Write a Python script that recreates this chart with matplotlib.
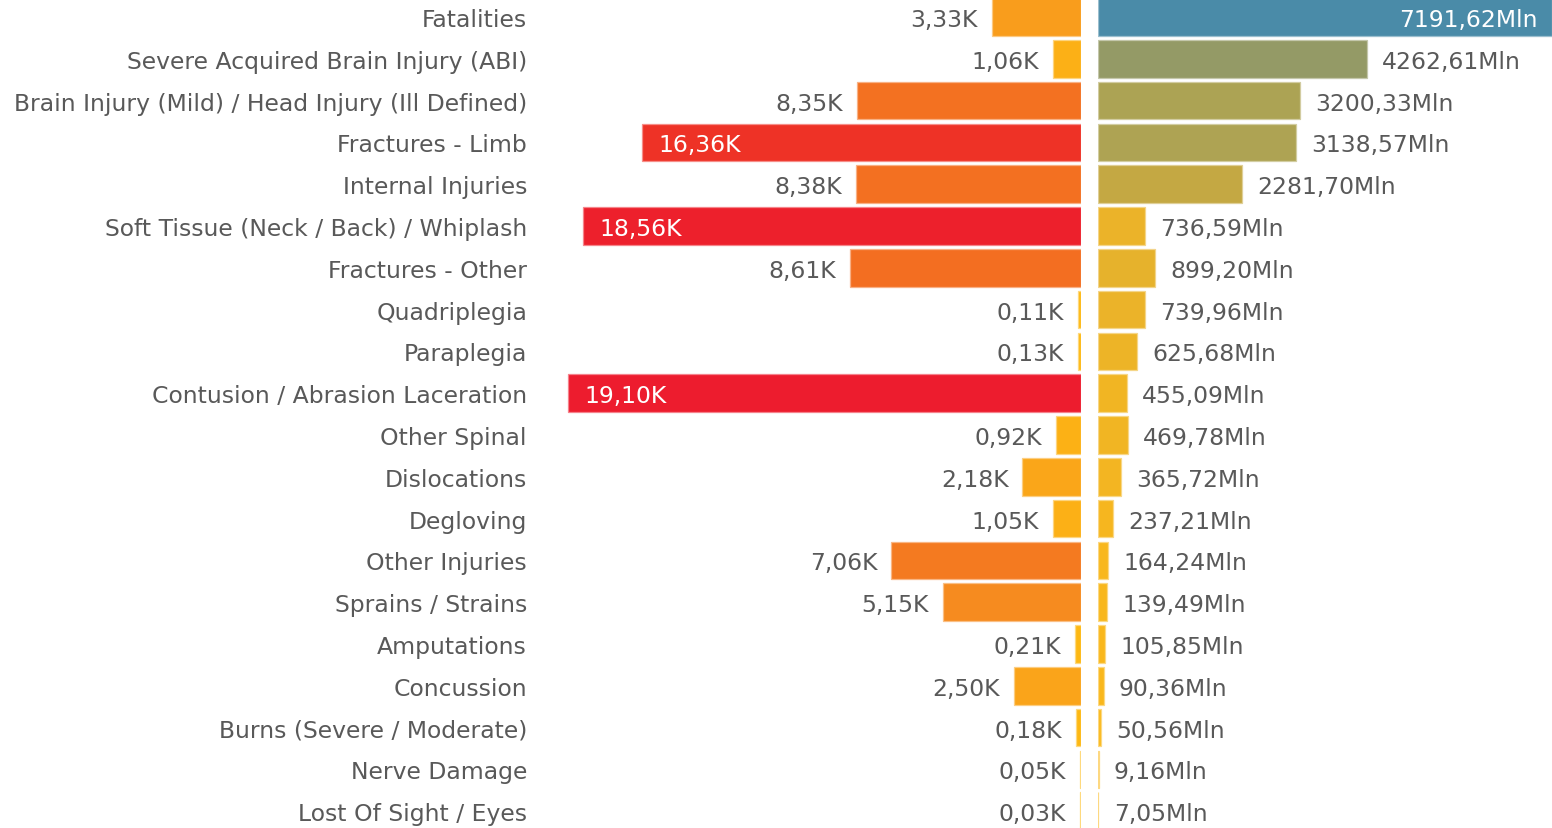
import matplotlib
matplotlib.use("Agg")
import matplotlib.pyplot as plt
from matplotlib.colors import LinearSegmentedColormap, to_rgb

categories = ["Fatalities", "Severe Acquired Brain Injury (ABI)",
              "Brain Injury (Mild) / Head Injury (Ill Defined)", "Fractures - Limb",
              "Internal Injuries", "Soft Tissue (Neck / Back) / Whiplash",
              "Fractures - Other", "Quadriplegia", "Paraplegia",
              "Contusion / Abrasion Laceration", "Other Spinal", "Dislocations",
              "Degloving", "Other Injuries", "Sprains / Strains", "Amputations",
              "Concussion", "Burns (Severe / Moderate)", "Nerve Damage",
              "Lost Of Sight / Eyes"]
counts_k = [3.33, 1.06, 8.35, 16.36, 8.38, 18.56, 8.61, 0.11, 0.13, 19.10,
            0.92, 2.18, 1.05, 7.06, 5.15, 0.21, 2.50, 0.18, 0.05, 0.03]
costs_mln = [7191.62, 4262.61, 3200.33, 3138.57, 2281.70, 736.59, 899.20,
             739.96, 625.68, 455.09, 469.78, 365.72, 237.21, 164.24, 139.49,
             105.85, 90.36, 50.56, 9.16, 7.05]

plt.rcParams['font.family'] = ['DejaVu Sans']
TXT = '#595959'
FS = 16.9

W, H = 1552, 829
fig = plt.figure(figsize=(W / 100, H / 100), dpi=100)

cmap_left = LinearSegmentedColormap.from_list('l', [
    (0.0, '#FDB913'), (0.17, '#F99D1C'), (0.27, '#F68B1F'), (0.37, '#F47A20'),
    (0.44, '#F37021'), (0.86, '#EE3226'), (1.0, '#ED1C2E')])
cmap_right = LinearSegmentedColormap.from_list('r', [
    (0.0, '#FBB81A'), (0.1, '#EBB329'), (0.32, '#C4A843'), (0.44, '#ADA354'),
    (0.59, '#949A66'), (1.0, '#4A8BA8')])


def light(c, f=0.45):
    r, g, b = to_rgb(c)
    return (r + (1 - r) * f, g + (1 - g) * f, b + (1 - b) * f)


n = len(categories)
ypos = list(range(n))
ylim = (19.40, -0.43)

# left axes (counts), zero at x=1081 px
left_px, zero_px = 555, 1081
scale_l = (zero_px - 568) / 19.10  # px per K
axL = fig.add_axes([left_px / W, 0, (zero_px - left_px) / W, 1])
axL.set_xlim((zero_px - left_px) / scale_l, 0)
axL.set_ylim(*ylim)
maxc = max(counts_k)
colsL = [cmap_left(v / maxc) for v in counts_k]
axL.barh(ypos, counts_k, height=0.9, color=colsL,
         edgecolor=[light(c) for c in colsL], linewidth=0.9)
for i, v in enumerate(counts_k):
    s = f"{v:.2f}".replace('.', ',') + 'K'
    if v > 0.6 * maxc:
        axL.annotate(s, (v, i), xytext=(12, 0), textcoords='offset points',
                     ha='left', va='center_baseline', color='white', fontsize=FS)
    else:
        axL.annotate(s, (v, i), xytext=(-10, 0), textcoords='offset points',
                     ha='right', va='center_baseline', color=TXT, fontsize=FS)
axL.set_yticks(ypos)
axL.set_yticklabels(categories, fontsize=FS, color=TXT)
axL.tick_params(axis='y', length=0, pad=(left_px - 527) * 0.72)
axL.set_xticks([])
for sp in axL.spines.values():
    sp.set_visible(False)

# right axes (costs)
r0 = 1098
axR = fig.add_axes([r0 / W, 0, (W - r0) / W, 1])
maxm = max(costs_mln)
axR.set_xlim(0, maxm)
axR.set_ylim(*ylim)
colsR = [cmap_right(v / maxm) for v in costs_mln]
axR.barh(ypos, costs_mln, height=0.9, color=colsR,
         edgecolor=[light(c) for c in colsR], linewidth=0.9)
for i, v in enumerate(costs_mln):
    s = f"{v:.2f}".replace('.', ',') + 'Mln'
    if v > 0.8 * maxm:
        axR.annotate(s, (v, i), xytext=(-10, 0), textcoords='offset points',
                     ha='right', va='center_baseline', color='white', fontsize=FS)
    else:
        axR.annotate(s, (v, i), xytext=(11, 0), textcoords='offset points',
                     ha='left', va='center_baseline', color=TXT, fontsize=FS)
axR.set_xticks([])
axR.set_yticks([])
for sp in axR.spines.values():
    sp.set_visible(False)

fig.savefig('out.png', dpi=100)
